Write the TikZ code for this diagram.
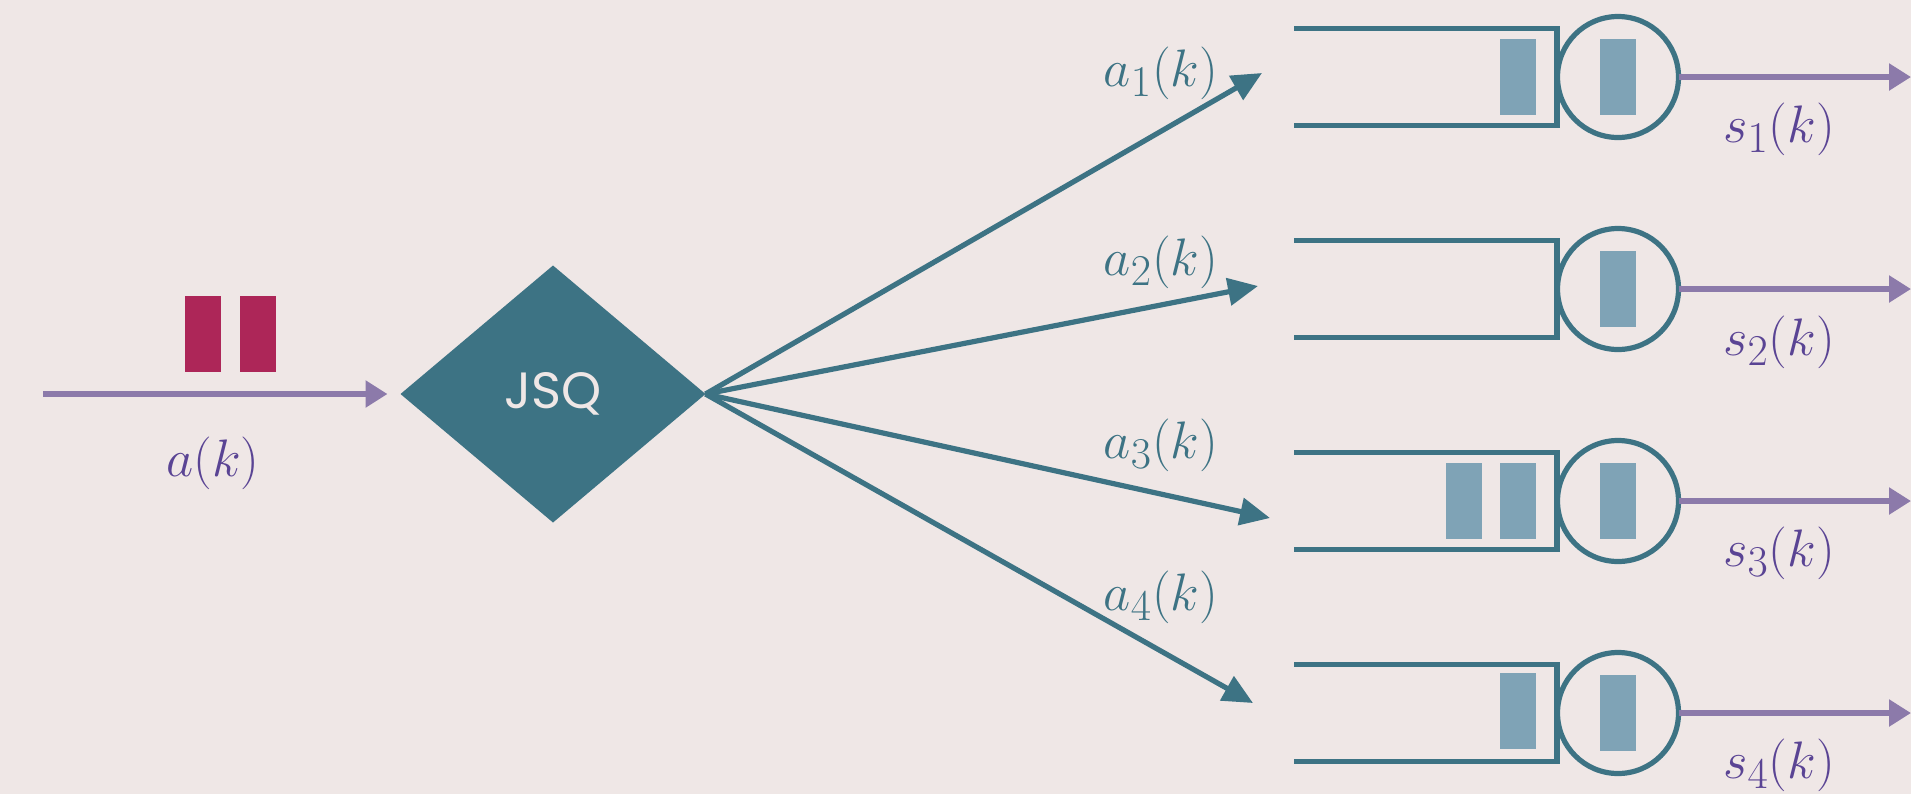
\documentclass[tikz,border=0pt]{standalone}
\usepackage{fontspec}
\newfontfamily\jsqfont{Poppins}
\usetikzlibrary{arrows.meta,positioning,shapes.geometric}
\definecolor{Backdrop}{HTML}{EFE7E6}
\definecolor{Teal}{HTML}{3D7384}
\definecolor{Crimson}{HTML}{AD2658}
\definecolor{Lilac}{HTML}{8C7AAA}
\definecolor{Plum}{HTML}{5A4494}
\definecolor{Steel}{HTML}{7FA3B6}

\begin{document}
\begin{tikzpicture}[x=0.5pt,y=-0.5pt,
  packet/.style={fill=Crimson,inner sep=0pt,minimum width=18pt,minimum height=38pt},
  job/.style={fill=Steel,inner sep=0pt,minimum width=18pt,minimum height=38pt},
  server/.style={circle,draw=Teal,line width=2.6pt,minimum size=60.5pt,inner sep=0pt,outer sep=0pt},
  buffer/.style={draw=Teal,line width=2.6pt},
  flow/.style={-{Triangle[length=11pt,width=13pt]},line width=2.7pt,color=Lilac},
  route/.style={-{Triangle[length=15pt,width=13.5pt]},line width=2.6pt,color=Teal},
  inlabel/.style={text=Plum,font=\fontsize{24.88}{30}\selectfont,inner sep=0pt,scale=1.06,transform shape},
  outlabel/.style={text=Teal,font=\fontsize{24.88}{30}\selectfont,inner sep=0pt,scale=1.06,transform shape}]
  \path[use as bounding box,fill=Backdrop] (0,0) rectangle (1911,794);
  % arrivals
  \node[packet] (pkt1) at (203,334) {};
  \node[packet,right=9pt of pkt1] (pkt2) {};
  \node[diamond,fill=Teal,minimum width=152.5pt,minimum height=128.5pt,inner sep=0pt,outer sep=0pt,
    text=Backdrop,font=\jsqfont\fontsize{25.5}{30}\selectfont] (jsq) at (553,394) {JSQ};
  \coordinate (src) at (43,394);
  \draw[flow,shorten >=6.5pt] (src) -- (jsq.west);
  \node[inlabel] (alab) at (213,463) {$a(k)$};
  % queues
  \draw[buffer] (1294,28.5) -- (1557,28.5) -- (1557,125.5) -- (1294,125.5);
  \draw[buffer] (1294,240.5) -- (1557,240.5) -- (1557,337.5) -- (1294,337.5);
  \draw[buffer] (1294,452.5) -- (1557,452.5) -- (1557,549.5) -- (1294,549.5);
  \draw[buffer] (1294,664.5) -- (1557,664.5) -- (1557,761.5) -- (1294,761.5);
  \node[job] (q1a) at (1518,77) {};
  \node[job] (q3a) at (1518,501) {};
  \node[job,left=8.5pt of q3a] (q3b) {};
  \node[job] (q4a) at (1518,711) {};
  \node[server] (srv1) at (1618,77) {}; \node[job] at (srv1) {};
  \node[server] (srv2) at (1618,289) {}; \node[job] at (srv2) {};
  \node[server] (srv3) at (1618,501) {}; \node[job] at (srv3) {};
  \node[server] (srv4) at (1618,713) {}; \node[job] at (srv4) {};
  % routing
  \coordinate (in1) at (1262,73); \coordinate (in2) at (1258,286);
  \coordinate (in3) at (1270,518); \coordinate (in4) at (1253,703);
  \draw[route] (jsq.east) -- (in1); \draw[route] (jsq.east) -- (in2);
  \draw[route] (jsq.east) -- (in3); \draw[route] (jsq.east) -- (in4);
  \node[outlabel] (alab1) at (1161,73) {$a_1(k)$};
  \node[outlabel] (alab2) at (1161,262) {$a_2(k)$};
  \node[outlabel] (alab3) at (1161,445) {$a_3(k)$};
  \node[outlabel] (alab4) at (1161,597) {$a_4(k)$};
  % departures
  \coordinate (out1) at (1911,77); \coordinate (out2) at (1911,289);
  \coordinate (out3) at (1911,501); \coordinate (out4) at (1911,713);
  \draw[flow] (srv1.east) -- (out1); \draw[flow] (srv2.east) -- (out2);
  \draw[flow] (srv3.east) -- (out3); \draw[flow] (srv4.east) -- (out4);
  \node[inlabel] (slab1) at (1779,129) {$s_1(k)$};
  \node[inlabel] (slab2) at (1779,342) {$s_2(k)$};
  \node[inlabel] (slab3) at (1779,553) {$s_3(k)$};
  \node[inlabel] (slab4) at (1779,765) {$s_4(k)$};
\end{tikzpicture}
\end{document}
